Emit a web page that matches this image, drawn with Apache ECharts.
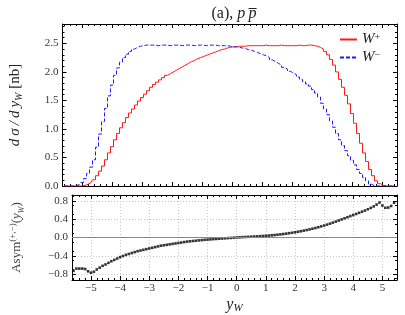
<!DOCTYPE html>
<html><head><meta charset="utf-8">
<script src="https://cdn.jsdelivr.net/npm/echarts@6/dist/echarts.min.js"></script>
<style>html,body{margin:0;padding:0;background:#fff}#c{width:405px;height:315px}</style>
</head><body><div id="c"></div>
<script>
// bin centres in y_W
var yW = [-5.6,-5.5,-5.4,-5.3,-5.2,-5.1,-5.0,-4.9,-4.8,-4.7,-4.6,-4.5,-4.4,-4.3,-4.2,-4.1,-4.0,-3.9,-3.8,-3.7,-3.6,-3.5,-3.4,-3.3,-3.2,-3.1,-3.0,-2.9,-2.8,-2.7,-2.6,-2.5,-2.4,-2.3,-2.2,-2.1,-2.0,-1.9,-1.8,-1.7,-1.6,-1.5,-1.4,-1.3,-1.2,-1.1,-1.0,-0.9,-0.8,-0.7,-0.6,-0.5,-0.4,-0.3,-0.2,-0.1,0,0.1,0.2,0.3,0.4,0.5,0.6,0.7,0.8,0.9,1.0,1.1,1.2,1.3,1.4,1.5,1.6,1.7,1.8,1.9,2.0,2.1,2.2,2.3,2.4,2.5,2.6,2.7,2.8,2.9,3.0,3.1,3.2,3.3,3.4,3.5,3.6,3.7,3.8,3.9,4.0,4.1,4.2,4.3,4.4,4.5,4.6,4.7,4.8,4.9,5.0,5.1,5.2,5.3,5.4];
// d sigma / d y_W [nb], W+
var wPlus = [0,0,0,0,0,0,0,0.01,0.03,0.06,0.11,0.18,0.26,0.35,0.46,0.58,0.69,0.81,0.92,1.02,1.11,1.20,1.28,1.35,1.42,1.49,1.55,1.61,1.67,1.73,1.78,1.82,1.86,1.90,1.94,1.97,2.00,2.03,2.06,2.09,2.12,2.15,2.18,2.20,2.23,2.25,2.27,2.29,2.31,2.33,2.35,2.37,2.39,2.40,2.42,2.43,2.44,2.44,2.45,2.45,2.45,2.46,2.46,2.46,2.46,2.46,2.46,2.47,2.46,2.46,2.46,2.46,2.47,2.46,2.46,2.46,2.46,2.46,2.47,2.46,2.46,2.47,2.47,2.46,2.45,2.43,2.40,2.36,2.30,2.22,2.12,2.00,1.87,1.73,1.59,1.44,1.27,1.10,0.92,0.75,0.58,0.43,0.29,0.18,0.09,0.04,0.01,0,0,0,0];
// W-
var wMinus = [0,0,0,0,0.005,0.02,0.06,0.13,0.22,0.33,0.46,0.68,0.91,1.13,1.36,1.58,1.77,1.94,2.07,2.17,2.25,2.31,2.36,2.40,2.43,2.45,2.46,2.47,2.47,2.47,2.47,2.46,2.47,2.47,2.47,2.46,2.47,2.47,2.47,2.46,2.47,2.47,2.47,2.46,2.47,2.47,2.47,2.46,2.47,2.47,2.47,2.46,2.46,2.46,2.46,2.45,2.44,2.44,2.43,2.42,2.41,2.39,2.38,2.36,2.34,2.32,2.30,2.28,2.25,2.21,2.18,2.15,2.12,2.08,2.05,2.01,1.98,1.95,1.91,1.87,1.83,1.79,1.75,1.69,1.63,1.56,1.45,1.35,1.25,1.14,1.03,0.92,0.81,0.71,0.62,0.53,0.45,0.37,0.29,0.22,0.15,0.09,0.03,0.005,0,0,0,0,0,0,0];
// Asym^(+,-)(y_W)
var asym = [-0.73,-0.68,-0.68,-0.68,-0.69,-0.74,-0.77,-0.75,-0.70,-0.66,-0.62,-0.59,-0.555,-0.52,-0.49,-0.46,-0.43,-0.405,-0.38,-0.36,-0.34,-0.32,-0.30,-0.285,-0.27,-0.255,-0.24,-0.225,-0.21,-0.195,-0.18,-0.17,-0.16,-0.15,-0.14,-0.13,-0.12,-0.11,-0.10,-0.09,-0.083,-0.076,-0.07,-0.063,-0.057,-0.051,-0.046,-0.041,-0.036,-0.031,-0.026,-0.022,-0.018,-0.013,-0.009,-0.004,0,0.004,0.008,0.011,0.014,0.018,0.021,0.025,0.029,0.033,0.037,0.042,0.048,0.054,0.061,0.068,0.076,0.085,0.094,0.104,0.114,0.125,0.137,0.150,0.163,0.177,0.192,0.208,0.225,0.243,0.262,0.282,0.303,0.325,0.348,0.372,0.396,0.42,0.444,0.468,0.492,0.516,0.54,0.565,0.59,0.618,0.648,0.68,0.72,0.765,0.70,0.65,0.655,0.69,0.76];
var xTicks = [-5,-4,-3,-2,-1,0,1,2,3,4,5];
var topYTicks = [0,0.5,1,1.5,2,2.5];
var asymTicks = [-0.8,-0.4,0,0.4,0.8];
var seriesNames = ['W+','W\u2212'];

var FONT = 'Liberation Serif';
function fmt(v, d){ return (v < -1e-9 ? '\u2212' : '') + Math.abs(v).toFixed(d); }
var X_MIN = -5.65, X_MAX = 5.5;

function xAx(grid, pos, labels){
  return {
    type:'value', gridIndex:grid, position:pos, min:X_MIN, max:X_MAX, splitNumber:11,
    axisLine:{show:true, onZero:false, lineStyle:{color:'#000', width:1}},
    axisTick:{show:true, inside:true, length:4, customValues:xTicks, lineStyle:{color:'#000'}},
    minorTick:{show:true, splitNumber:5, length:2, lineStyle:{color:'#000'}},
    axisLabel:{show:labels, customValues:xTicks, formatter:function(v){return fmt(v,0);}, margin:3, color:'#333', fontFamily:FONT, fontSize:11},
    splitLine:{show: labels, lineStyle:{color:'#c8c8c8', type:[1,2], width:1}}
  };
}
function yAx(grid, pos, labels, min, max, ticks, digits, splitNumber, minorSplit, gridLines){
  return {
    type:'value', gridIndex:grid, position:pos, min:min, max:max, splitNumber:splitNumber,
    axisLine:{show:true, onZero:false, lineStyle:{color:'#000', width:1}},
    axisTick:{show:true, inside:true, length:4, customValues:ticks, lineStyle:{color:'#000'}},
    minorTick:{show:true, splitNumber:minorSplit, length:2, lineStyle:{color:'#000'}},
    axisLabel:{show:labels, customValues:ticks, formatter:function(v){return fmt(v,digits);}, margin:4, color:'#333', fontFamily:FONT, fontSize:11},
    splitLine:{show: gridLines, lineStyle:{color:'#c8c8c8', type:[1,2], width:1}}
  };
}

var xa2 = xAx(1,'bottom',true);
xa2.name = '{i|y}{s|W}';
xa2.nameLocation = 'middle';
xa2.nameGap = 16;
xa2.nameTextStyle = {rich:{
  i:{fontFamily:FONT, fontStyle:'italic', fontSize:16, color:'#222', lineHeight:18},
  s:{fontFamily:FONT, fontStyle:'italic', fontSize:11, color:'#222', verticalAlign:'bottom', lineHeight:14}
}};

var ya0 = yAx(0,'left',true,0,2.84,topYTicks,1,6,5,false);
ya0.name = '{i|d\u2009\u03c3\u2009/\u2009d\u2009y}{s|W}{n| [nb]}';
ya0.nameLocation = 'middle';
ya0.nameRotate = 90;
ya0.nameGap = 38;
ya0.nameTextStyle = {rich:{
  i:{fontFamily:FONT, fontStyle:'italic', fontSize:15, color:'#222', lineHeight:18},
  s:{fontFamily:FONT, fontStyle:'italic', fontSize:10, color:'#222', verticalAlign:'bottom', lineHeight:14},
  n:{fontFamily:FONT, fontSize:15, color:'#222', lineHeight:18}
}};

var ya2 = yAx(1,'left',true,-0.93,0.93,asymTicks,1,9,2,true);
ya2.name = '{n|Asym}{p|(+,\u2212)}{n|(}{i|y}{s|W}{n|)}';
ya2.nameLocation = 'middle';
ya2.nameRotate = 90;
ya2.nameGap = 46;
ya2.nameTextStyle = {rich:{
  n:{fontFamily:FONT, fontSize:13, color:'#444', lineHeight:18},
  i:{fontFamily:FONT, fontStyle:'italic', fontSize:13, color:'#444', lineHeight:18},
  p:{fontFamily:FONT, fontSize:9, color:'#444', verticalAlign:'top', lineHeight:12},
  s:{fontFamily:FONT, fontStyle:'italic', fontSize:8, color:'#444', verticalAlign:'bottom', lineHeight:14}
}};

var option = {
  animation:false,
  backgroundColor:'#fff',
  title:{
    text:'{n|(a), }{i|p\u2009p\u0305}',
    left:229, top:1, textAlign:'center',
    textStyle:{fontWeight:'normal', rich:{
      n:{fontFamily:FONT, fontSize:16, fontWeight:'normal', color:'#222'},
      i:{fontFamily:FONT, fontStyle:'italic', fontSize:16, fontWeight:'normal', color:'#222'}
    }}
  },
  legend:{
    data:seriesNames, orient:'vertical', left:334, top:27,
    itemWidth:17, itemHeight:10, itemGap:3,
    itemStyle:{opacity:0},
    formatter:function(name){ return name === 'W+' ? '{i|W}{p|+}' : '{i|W}{p|\u2212}'; },
    textStyle:{rich:{
      i:{fontFamily:FONT, fontStyle:'italic', fontSize:15, color:'#222', lineHeight:14},
      p:{fontFamily:FONT, fontSize:10, color:'#222', verticalAlign:'top', lineHeight:10}
    }}
  },
  grid:[
    {left:61, right:8, top:24, height:162, show:false},
    {left:61, right:8, top:195, height:87, show:false}
  ],
  xAxis:[ xAx(0,'bottom',false), xAx(0,'top',false), xa2, xAx(1,'top',false) ],
  yAxis:[ ya0, yAx(0,'right',false,0,2.84,topYTicks,1,6,5,false), ya2, yAx(1,'right',false,-0.93,0.93,asymTicks,1,9,2,false) ],
  series:[
    {name:seriesNames[0], type:'line', xAxisIndex:0, yAxisIndex:0, step:'middle', symbol:'none', showSymbol:false,
     data:yW.map(function(x,i){return [x,wPlus[i]];}), lineStyle:{color:'#ff1a1a', width:1}, itemStyle:{color:'#ff1a1a'}},
    {name:seriesNames[1], type:'line', xAxisIndex:0, yAxisIndex:0, step:'middle', symbol:'none', showSymbol:false,
     data:yW.map(function(x,i){return [x,wMinus[i]];}), lineStyle:{color:'#1a1aff', width:1, type:[4,2]}, itemStyle:{color:'#1a1aff'}},
    {name:'asym', type:'scatter', xAxisIndex:2, yAxisIndex:2, symbol:'rect', symbolSize:2.6,
     data:yW.map(function(x,i){return [x,asym[i]];}), itemStyle:{color:'#000'},
     markLine:{silent:true, symbol:['none','none'], label:{show:false}, animation:false,
       lineStyle:{color:'#888', type:'solid', width:1}, data:[{yAxis:0}]}}
  ]
};
var chart = echarts.init(document.getElementById('c'), null, {renderer:'canvas'});
window.chart = chart;
try {
  chart.setOption(option);
} catch (e) {
  document.body.insertAdjacentHTML('beforeend', '<pre>' + e.message + '</pre>');
  throw e;
}
</script>
</body></html>
